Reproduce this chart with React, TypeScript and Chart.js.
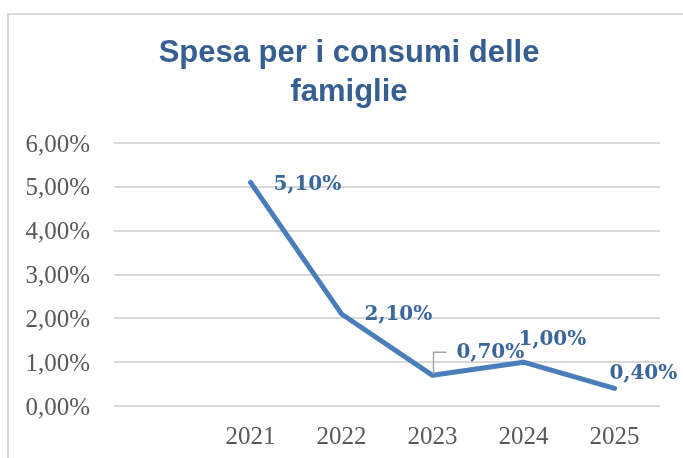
import React, { useEffect, useRef } from 'react';
import { Chart, registerables } from 'chart.js';

Chart.register(...registerables);

// ---- data ----
const TITLE_LINES = ['Spesa per i consumi delle', 'famiglie'];
const categories = ['', '2021', '2022', '2023', '2024', '2025'];
const values: (number | null)[] = [null, 5.1, 2.1, 0.7, 1.0, 0.4];
const yMin = 0;
const yMax = 6;
const yStep = 1;

// ---- label placement (style, not data) ----
const labelOffsets: ([number, number] | null)[] = [null, [23, 2.5], [23, 1], [24, -22.5], [-5, -22.5], [-5, -14.5]];
const leaderIndex = 3;

const fmt = (v: number) => v.toFixed(2).replace('.', ',') + '%';

const dataLabelPlugin = {
  id: 'dataLabels',
  afterDatasetsDraw(chart: any) {
    const ctx = chart.ctx as CanvasRenderingContext2D;
    const meta = chart.getDatasetMeta(0);
    ctx.save();
    meta.data.forEach((pt: any, i: number) => {
      const v = values[i];
      const off = labelOffsets[i];
      if (v == null || !off) return;
      const x = pt.x;
      const y = pt.y;
      if (i === leaderIndex) {
        ctx.strokeStyle = '#A6A6A6';
        ctx.lineWidth = 1.5;
        ctx.beginPath();
        ctx.moveTo(x + 1, y - 1);
        ctx.lineTo(x + 1, y - 23);
        ctx.lineTo(x + 14, y - 23);
        ctx.stroke();
      }
      ctx.font = 'bold 20px "DejaVu Serif", serif';
      ctx.fillStyle = '#3B659B';
      ctx.textAlign = 'left';
      ctx.textBaseline = 'middle';
      ctx.fillText(fmt(v), x + off[0], y + off[1]);
    });
    ctx.restore();
  },
};

export default function App() {
  const ref = useRef<HTMLCanvasElement>(null);

  useEffect(() => {
    if (!ref.current) return;
    const chart = new Chart(ref.current, {
      type: 'line',
      data: {
        labels: categories,
        datasets: [
          {
            data: values,
            yAxisID: 'y',
            borderColor: '#4A7EBB',
            backgroundColor: '#4A7EBB',
            borderWidth: 5,
            borderCapStyle: 'round',
            borderJoinStyle: 'round',
            pointRadius: 0,
            pointHoverRadius: 0,
            tension: 0,
            fill: false,
          },
        ],
      },
      options: {
        responsive: false,
        animation: false,
        events: [],
        layout: { padding: { left: 15, right: 0, top: 0, bottom: 0 } },
        plugins: {
          legend: { display: false },
          tooltip: { enabled: false },
          title: {
            display: true,
            text: TITLE_LINES,
            color: '#365F91',
            font: { family: '"Liberation Sans", Arial, sans-serif', size: 31, weight: 'bold', lineHeight: 39 / 31 },
            padding: { top: 34, bottom: 31 },
          },
        },
        scales: {
          x: {
            type: 'category',
            offset: true,
            grid: { display: false, drawTicks: false },
            border: { display: false },
            ticks: {
              color: '#595959',
              font: { family: '"Liberation Serif", serif', size: 25 },
              padding: 16,
              maxRotation: 0,
              autoSkip: false,
            },
            afterFit: (scale: any) => {
              scale.height = 52;
            },
          },
          y: {
            position: 'left',
            min: yMin,
            max: yMax,
            grid: { color: '#D9D9D9', lineWidth: 2, drawTicks: false },
            border: { display: false },
            ticks: {
              stepSize: yStep,
              color: '#595959',
              font: { family: '"Liberation Serif", serif', size: 25 },
              padding: 24,
              labelOffset: 2,
              callback: (v: any) => fmt(Number(v)),
            },
            afterFit: (scale: any) => {
              scale.width = 99;
            },
          },
          yRightSpacer: {
            type: 'linear',
            position: 'right',
            min: yMin,
            max: yMax,
            grid: { display: false, drawTicks: false },
            border: { display: false },
            ticks: { display: false },
            afterFit: (scale: any) => {
              scale.width = 23;
            },
          },
        },
      },
      plugins: [dataLabelPlugin],
    } as any);
    return () => chart.destroy();
  }, []);

  return (
    <div style={{ position: 'fixed', left: 0, top: 0, width: 683, height: 458, overflow: 'hidden', background: '#ffffff' }}>
      <div
        style={{
          position: 'absolute',
          left: 7,
          top: 13,
          width: 720,
          height: 500,
          borderLeft: '2px solid #D9D9D9',
          borderTop: '2px solid #D9D9D9',
        }}
      />
      <canvas ref={ref} width={683} height={458} style={{ position: 'absolute', left: 0, top: 0 }} />
    </div>
  );
}
